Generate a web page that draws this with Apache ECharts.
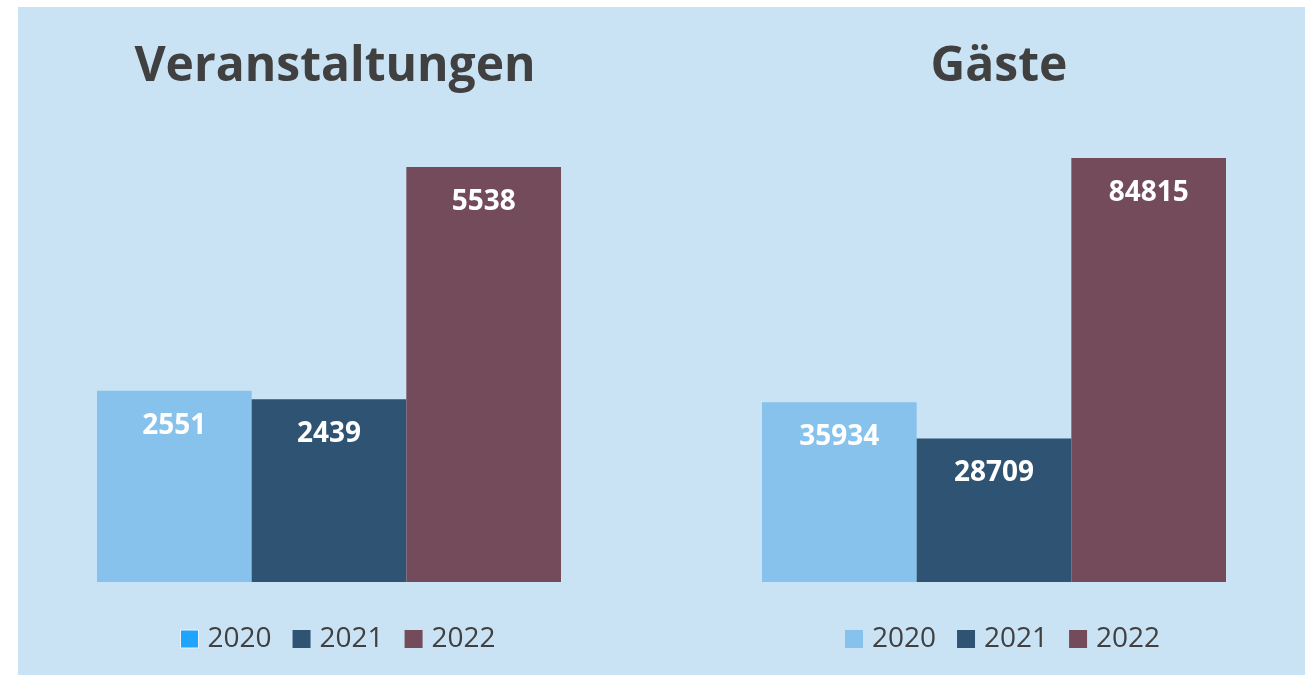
<!DOCTYPE html>
<html>
<head>
<meta charset="utf-8">
<script src="https://cdn.jsdelivr.net/npm/echarts@6/dist/echarts.min.js"></script>
<style>
  html, body { margin: 0; padding: 0; background: #fff; }
  #chart { width: 1309px; height: 675px; }
</style>
</head>
<body>
<div id="chart"></div>
<script>
const years = ['2020', '2021', '2022']
const titles = ['Veranstaltungen', 'Gäste']
const veranstaltungen = [2551, 2439, 5538]
const gaeste = [35934, 28709, 84815]
const colors = ['#86C2EC', '#2E5373', '#734B5B']

const chart = echarts.init(document.getElementById('chart'))

const textColor = '#404040'
const font = '"Open Sans", "Liberation Sans", sans-serif'

function makeSeries(values, gridIndex) {
  return years.map((y, i) => ({
    name: y,
    type: 'bar',
    xAxisIndex: gridIndex,
    yAxisIndex: gridIndex,
    barGap: '0%',
    barCategoryGap: '0%',
    itemStyle: { color: colors[i] },
    label: {
      show: true,
      position: 'insideTop',
      distance: 21,
      color: '#fff',
      fontFamily: font,
      fontWeight: 'bold',
      fontSize: 28
    },
    data: [values[i]]
  }))
}

function makeLegend(left, firstIcon) {
  return {
    left: left,
    top: 620,
    icon: 'rect',
    itemWidth: 18,
    itemHeight: 18,
    itemGap: 21,
    selectedMode: false,
    textStyle: { color: textColor, fontFamily: font, fontSize: 28, lineHeight: 28, padding: [0, 0, 0, 4] },
    data: years.map((y, i) => ({
      name: y,
      itemStyle: i === 0 ? firstIcon : { color: colors[i] }
    }))
  }
}

const titleStyle = { color: textColor, fontFamily: font, fontWeight: 'bold', fontSize: 48 }

const option = {
  backgroundColor: '#fff',
  animation: false,
  graphic: [{
    type: 'rect',
    z: -10,
    shape: { x: 18, y: 7, width: 1287, height: 668 },
    style: { fill: '#C9E3F5' },
    silent: true
  }],
  title: [
    { text: titles[0], left: 330, top: 38, textAlign: 'center', textStyle: titleStyle },
    { text: titles[1], left: 994, top: 38, textAlign: 'center', textStyle: titleStyle }
  ],
  legend: [
    makeLegend(175, { color: '#1FA5FF', borderColor: '#E6F4FF', borderWidth: 1 }),
    makeLegend(840, { color: colors[0] })
  ],
  grid: [
    { left: 97, width: 464, top: 167, height: 415 },
    { left: 762, width: 464, top: 158, height: 424 }
  ],
  xAxis: [0, 1].map(i => ({
    type: 'category', gridIndex: i, data: [''], show: false
  })),
  yAxis: [0, 1].map(i => ({
    type: 'value', gridIndex: i, min: 0, max: 'dataMax', show: false
  })),
  series: [...makeSeries(veranstaltungen, 0), ...makeSeries(gaeste, 1)]
}

chart.setOption(option)
window.addEventListener('resize', () => chart.resize())
</script>
</body>
</html>
